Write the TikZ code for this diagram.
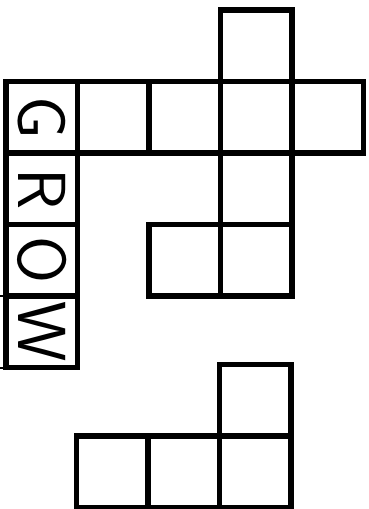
\documentclass[tikz,border=0pt]{standalone}
\usepackage{fontspec}
\usepackage{tikz}
\usetikzlibrary{positioning}

\tikzset{
	cell/.style={draw, rectangle, line width=5.5pt, minimum size=71.5pt, inner sep=0pt, outer sep=0pt},
	letter/.style={font=\fontsize{68}{68}\selectfont\sffamily}
}

\begin{document}
\begin{tikzpicture}[x=1pt, y=1pt, node distance=71.5pt]
			\useasboundingbox (0,0) rectangle (368,509);
			% word column
			\node[cell, letter] (g) at (41.75,391.5) {\rotatebox{-90}{G}};
			\node[cell, letter, below of=g] (r) {\rotatebox{-90}{R}};
			\node[cell, letter, below of=r] (o) {\rotatebox{-90}{O}};
			\node[cell, letter, below of=o] (w) {\rotatebox{-90}{W}};
			\draw[line width=2pt] (w.north west) -- ++(-6,0);
			\draw[line width=2pt] (w.south west) -- ++(-6,0);

			% net of the cube
			\node[cell, right of=g] (c1) {};
			\node[cell, right of=c1] (c2) {};
			\node[cell, right of=c2] (c3) {};
			\node[cell, right of=c3] (c4) {};
			\node[cell, above of=c3] (top) {};
			\node[cell, below of=c3] (d1) {};
			\node[cell, below of=d1] (d2) {};
			\node[cell, left of=d2] (d3) {};

			% small piece
			\node[cell] (b3) at (255,37) {};
			\node[cell, left of=b3] (b2) {};
			\node[cell, left of=b2] (b1) {};
			\node[cell, above of=b3] (bt) {};
		\end{tikzpicture}
\end{document}
